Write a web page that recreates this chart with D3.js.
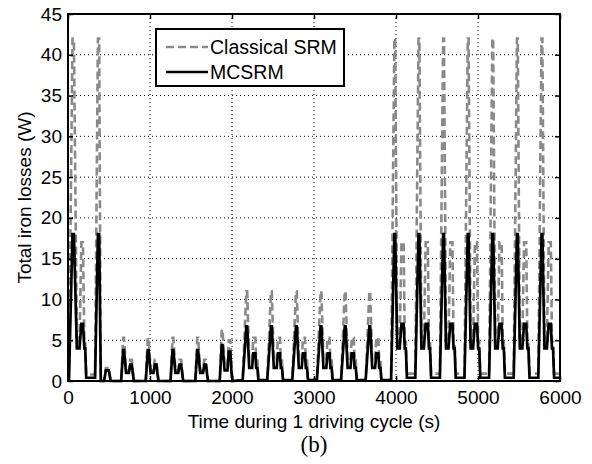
<!DOCTYPE html>
<html>
<head>
<meta charset="utf-8">
<script src="https://cdn.jsdelivr.net/npm/d3@7"></script>
<style>
  html, body { margin: 0; padding: 0; background: #fff; }
  svg { display: block; }
</style>
</head>
<body>
<svg id="chart" width="592" height="464"></svg>
<script>
// ---- Data ----
const timeS = [
  0, 12, 55, 72, 108, 140, 163, 182, 200, 210, 222, 330, 365, 380, 400,
  440, 462, 498, 520,
  648, 673, 683, 708, 743, 758, 778, 790, 803,
  948, 973, 983, 1008, 1043, 1058, 1078, 1090, 1103,
  1250, 1275, 1285, 1310, 1345, 1360, 1380, 1392, 1405,
  1552, 1577, 1587, 1612, 1647, 1662, 1682, 1694, 1707,
  1850, 1875, 1885, 1910, 1945, 1960, 1980, 1992, 2005,
  2130, 2175, 2185, 2210, 2245, 2260, 2285, 2295, 2310, 2322,
  2430, 2475, 2485, 2510, 2545, 2560, 2585, 2595, 2610, 2622,
  2735, 2780, 2790, 2815, 2850, 2865, 2890, 2900, 2915, 2927,
  3035, 3080, 3090, 3115, 3150, 3165, 3190, 3200, 3215, 3227,
  3330, 3375, 3385, 3410, 3445, 3460, 3485, 3495, 3510, 3522,
  3630, 3675, 3685, 3710, 3745, 3760, 3785, 3795, 3810, 3822,
  3940, 3980, 3990, 4015, 4045, 4067, 4093, 4107, 4120, 4133,
  4235, 4275, 4285, 4310, 4340, 4362, 4388, 4402, 4415, 4428,
  4535, 4575, 4585, 4610, 4640, 4662, 4688, 4702, 4715, 4728,
  4835, 4875, 4885, 4910, 4940, 4962, 4988, 5002, 5015, 5028,
  5135, 5175, 5185, 5210, 5240, 5262, 5288, 5302, 5315, 5328,
  5435, 5475, 5485, 5510, 5540, 5562, 5588, 5602, 5615, 5628,
  5735, 5775, 5785, 5810, 5840, 5862, 5888, 5902, 5915, 5928,
  6000
];

const mcsrmW = [
  0, 0.2, 18, 18, 4, 4, 7, 7, 4, 4, 0.4, 0.4, 18, 18, 0,
  0, 1.3, 1.3, 0,
  0, 3.8, 3.8, 1.0, 1.0, 2.0, 2.0, 1.0, 0,
  0, 3.8, 3.8, 1.0, 1.0, 2.0, 2.0, 1.0, 0,
  0, 3.8, 3.8, 1.0, 1.0, 2.0, 2.0, 1.0, 0,
  0, 3.8, 3.8, 1.0, 1.0, 2.0, 2.0, 1.0, 0,
  0, 4.4, 4.4, 1.3, 1.3, 3.6, 3.6, 1.3, 0,
  0.1, 6.7, 6.7, 1.6, 1.6, 3.4, 3.4, 1.6, 1.6, 0.1,
  0.1, 6.7, 6.7, 1.6, 1.6, 3.4, 3.4, 1.6, 1.6, 0.1,
  0.1, 6.7, 6.7, 1.6, 1.6, 3.4, 3.4, 1.6, 1.6, 0.1,
  0.1, 6.7, 6.7, 1.6, 1.6, 3.4, 3.4, 1.6, 1.6, 0.1,
  0.1, 6.7, 6.7, 1.6, 1.6, 3.4, 3.4, 1.6, 1.6, 0.1,
  0.1, 6.7, 6.7, 1.6, 1.6, 3.4, 3.4, 1.6, 1.6, 0.1,
  0.1, 18, 18, 4, 4, 7, 7, 4, 4, 0.4,
  0.4, 18, 18, 4, 4, 7, 7, 4, 4, 0.4,
  0.4, 18, 18, 4, 4, 7, 7, 4, 4, 0.4,
  0.4, 18, 18, 4, 4, 7, 7, 4, 4, 0.4,
  0.4, 18, 18, 4, 4, 7, 7, 4, 4, 0.4,
  0.4, 18, 18, 4, 4, 7, 7, 4, 4, 0.4,
  0.4, 18, 18, 4, 4, 7, 7, 4, 4, 0.4,
  0.4
];

const classicalW = [
  0, 0.5, 42, 42, 4.8, 4.8, 17, 17, 4.8, 4.8, 0.8, 0.8, 42, 42, 0,
  0, 1.6, 1.6, 0,
  0, 5.3, 5.3, 1.3, 1.3, 2.6, 2.6, 1.3, 0,
  0, 5.3, 5.3, 1.3, 1.3, 2.6, 2.6, 1.3, 0,
  0, 5.3, 5.3, 1.3, 1.3, 2.6, 2.6, 1.3, 0,
  0, 5.3, 5.3, 1.3, 1.3, 2.6, 2.6, 1.3, 0,
  0, 6.3, 6.3, 1.8, 1.8, 5.0, 5.0, 1.8, 0,
  0.1, 11, 11, 2.5, 2.5, 5.3, 5.3, 2.5, 2.5, 0.1,
  0.1, 11, 11, 2.5, 2.5, 5.3, 5.3, 2.5, 2.5, 0.1,
  0.1, 11, 11, 2.5, 2.5, 5.3, 5.3, 2.5, 2.5, 0.1,
  0.1, 11, 11, 2.5, 2.5, 5.3, 5.3, 2.5, 2.5, 0.1,
  0.1, 11, 11, 2.5, 2.5, 5.3, 5.3, 2.5, 2.5, 0.1,
  0.1, 11, 11, 2.5, 2.5, 5.3, 5.3, 2.5, 2.5, 0.1,
  0.1, 42, 42, 4.8, 4.8, 17, 17, 4.8, 4.8, 0.9,
  0.9, 42, 42, 4.8, 4.8, 17, 17, 4.8, 4.8, 0.9,
  0.9, 42, 42, 4.8, 4.8, 17, 17, 4.8, 4.8, 0.9,
  0.9, 42, 42, 4.8, 4.8, 17, 17, 4.8, 4.8, 0.9,
  0.9, 42, 42, 4.8, 4.8, 17, 17, 4.8, 4.8, 0.9,
  0.9, 42, 42, 4.8, 4.8, 17, 17, 4.8, 4.8, 0.9,
  0.9, 42, 42, 4.8, 4.8, 17, 17, 4.8, 4.8, 0.9,
  0.9
];

const xTicks = [0, 1000, 2000, 3000, 4000, 5000, 6000];
const yTicks = [0, 5, 10, 15, 20, 25, 30, 35, 40, 45];
const seriesNames = ["Classical SRM", "MCSRM"];
const xLabel = "Time during 1 driving cycle (s)";
const yLabel = "Total iron losses (W)";
const caption = "(b)";

// ---- Layout ----
const svg = d3.select("#chart");
const L = 68, R = 560, T = 14, B = 381;
const x = d3.scaleLinear().domain([0, 6000]).range([L, R]);
const y = d3.scaleLinear().domain([0, 45]).range([B, T]);
const font = "'Liberation Sans', Arial, Helvetica, sans-serif";

// grid
const grid = svg.append("g");
xTicks.slice(1, -1).forEach(t => {
  grid.append("line").attr("x1", x(t)).attr("x2", x(t)).attr("y1", T).attr("y2", B)
    .attr("stroke", "#000").attr("stroke-width", 1).attr("stroke-dasharray", "1,3");
});
yTicks.slice(1, -1).forEach(t => {
  grid.append("line").attr("x1", L).attr("x2", R).attr("y1", y(t)).attr("y2", y(t))
    .attr("stroke", "#000").attr("stroke-width", 1).attr("stroke-dasharray", "1,3");
});

// lines
const pts = (vals) => timeS.map((t, i) => [t, vals[i]]);
const line = d3.line().x(d => x(d[0])).y(d => y(d[1]));
const plot = svg.append("g");
plot.append("path").datum(pts(classicalW)).attr("d", line)
  .attr("fill", "none").attr("stroke", "#8a8a8a").attr("stroke-width", 2.6)
  .attr("stroke-dasharray", "8,4");
plot.append("path").datum(pts(mcsrmW)).attr("d", line)
  .attr("fill", "none").attr("stroke", "#000").attr("stroke-width", 2.7);

// axes (inner ticks on all sides)
const tickLen = 5;
const axB = svg.append("g").attr("transform", `translate(0,${B})`)
  .call(d3.axisBottom(x).tickValues(xTicks).tickSize(-tickLen).tickPadding(10).tickFormat(d3.format("d")));
const axT = svg.append("g").attr("transform", `translate(0,${T})`)
  .call(d3.axisTop(x).tickValues(xTicks).tickSize(-tickLen).tickFormat(""));
const axL = svg.append("g").attr("transform", `translate(${L},0)`)
  .call(d3.axisLeft(y).tickValues(yTicks).tickSize(-tickLen).tickPadding(6).tickFormat(d3.format("d")));
const axR = svg.append("g").attr("transform", `translate(${R},0)`)
  .call(d3.axisRight(y).tickValues(yTicks).tickSize(-tickLen).tickFormat(""));
[axB, axT, axL, axR].forEach(g => {
  g.select(".domain").remove();
  g.selectAll(".tick line").attr("stroke", "#000").attr("stroke-width", 1.5);
  g.selectAll(".tick text").attr("fill", "#000").attr("font-family", font).attr("font-size", 19);
});
axB.selectAll(".tick text").attr("dy", "0.71em");

// box
svg.append("rect").attr("x", L).attr("y", T).attr("width", R - L).attr("height", B - T)
  .attr("fill", "none").attr("stroke", "#000").attr("stroke-width", 2);

// labels
svg.append("text").attr("x", (L + R) / 2).attr("y", 428).attr("text-anchor", "middle")
  .attr("font-family", font).attr("font-size", 19).attr("fill", "#000").text(xLabel);
svg.append("text").attr("transform", `translate(31,${(T + B) / 2}) rotate(-90)`)
  .attr("text-anchor", "middle").attr("font-family", font).attr("font-size", 19)
  .attr("fill", "#000").text(yLabel);
svg.append("text").attr("x", (L + R) / 2).attr("y", 452).attr("text-anchor", "middle")
  .attr("font-family", "'Liberation Serif', 'Times New Roman', serif").attr("font-size", 23)
  .attr("fill", "#000").text(caption);

// legend
const lg = svg.append("g");
lg.append("rect").attr("x", 156).attr("y", 29).attr("width", 188).attr("height", 57)
  .attr("fill", "#fff").attr("stroke", "#000").attr("stroke-width", 2);
const rows = [
  { name: seriesNames[0], color: "#8a8a8a", dash: "8,4", yy: 47 },
  { name: seriesNames[1], color: "#000", dash: null, yy: 72 }
];
rows.forEach(r => {
  lg.append("line").attr("x1", 166).attr("x2", 208).attr("y1", r.yy).attr("y2", r.yy)
    .attr("stroke", r.color).attr("stroke-width", 2.4).attr("stroke-dasharray", r.dash);
  lg.append("text").attr("x", 210).attr("y", r.yy).attr("dy", "0.35em")
    .attr("font-family", font).attr("font-size", 19.5).attr("fill", "#000").text(r.name);
});
</script>
</body>
</html>
